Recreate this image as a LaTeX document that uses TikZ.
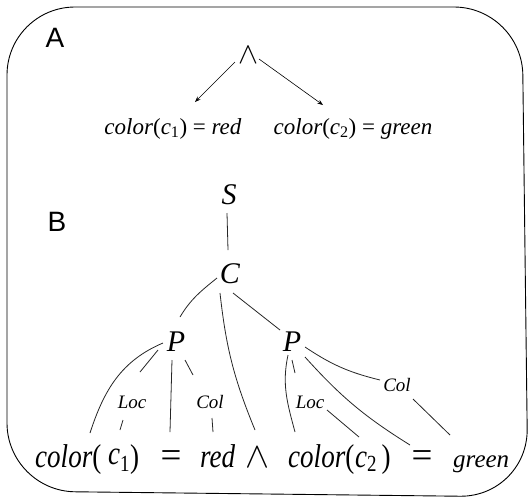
\RequirePackage{fix-cm}
\documentclass[tikz,border=0pt]{standalone}
\usepackage{fontspec}
\usepackage{graphicx}
\setmainfont{Liberation Serif}
\setsansfont{Liberation Sans}
\usetikzlibrary{arrows.meta,calc}

% narrow, tall lettering of the sentence
\newcommand{\tallword}[1]{\scalebox{0.82}[1]{#1}}

\begin{document}
\begin{tikzpicture}[x=1pt, y=1pt, >=Stealth,
    panel/.style={font=\fontsize{28}{30}\selectfont\sffamily},
    cat/.style={font=\fontsize{30}{32}\selectfont\itshape, inner sep=0pt},
    role/.style={font=\fontsize{19}{21}\selectfont\itshape, inner sep=0pt},
    formula/.style={font=\fontsize{23}{26}\selectfont, inner sep=0pt},
    word/.style={font=\fontsize{33}{35}\selectfont, inner sep=0pt},
    link/.style={line width=0.8pt, black!85}]
    \useasboundingbox (0,0) rectangle (530,-499);

    % Frame
    \draw[line width=0.9pt, rounded corners=68pt]
        (7,-7) -- (522,-7) -- (528,-497) -- (7,-491) -- cycle;

    % Panel letters
    \node[panel] (labA) at (55,-38) {A};
    \node[panel] (labB) at (57,-222) {B};

    % A: conjunction of two constraints
    \node[formula, font=\fontsize{30}{32}\selectfont] (andT) at (248,-55) {$\wedge$};
    \node[formula] (eqR) at (173,-129) {\textit{color}(\textit{c}\textsubscript{1}) = \textit{red}};
    \node[formula] (eqG) at (353,-129) {\textit{color}(\textit{c}\textsubscript{2}) = \textit{green}};
    \draw[->, line width=0.6pt] ([shift={(-13,-7)}]andT.center) -- ([shift={(22,27)}]eqR.center);
    \draw[->, line width=0.6pt] ([shift={(11,-4)}]andT.center) -- ([shift={(-30,24)}]eqG.center);

    % B: parse tree over the sentence
    \node[cat] (S) at (229,-195) {S};
    \node[cat] (C) at (230,-274) {C};
    \node[cat] (Pl) at (176,-342) {P};
    \node[cat] (Pr) at (292,-342) {P};
    \node[role] (locL) at (132,-402) {Loc};
    \node[role] (colL) at (210,-402) {Col};
    \node[role] (locR) at (310,-402) {Loc};
    \node[role] (colR) at (397,-385) {Col};

    % sentence
    \node[word, anchor=base west] (colA) at (35,-467) {\tallword{\textit{color}(}};
    \node[word, anchor=base west] (cA) at (108,-467) {\tallword{\raisebox{3pt}{\textit{c}}\textsubscript{1})}};
    \node[word, anchor=base, font=\fontsize{37}{39}\selectfont] (eqA) at (171,-467) {=};
    \node[word, anchor=base west] (redA) at (200,-467) {\tallword{\textit{red}}};
    \node[word, anchor=base, font=\fontsize{36}{38}\selectfont] (andB) at (257,-467) {$\wedge$};
    \node[word, anchor=base west] (colB) at (288,-467) {\tallword{\textit{color}(}};
    \node[word, anchor=base west] (cB) at (355,-467) {\tallword{\textit{c}\textsubscript{2}\,)}};
    \node[word, anchor=base, font=\fontsize{37}{39}\selectfont] (eqB) at (422,-467) {=};
    \node[word, anchor=base west, font=\fontsize{25}{28}\selectfont] (grB) at (453,-467) {\textit{green}};

    % tree links
    \draw[link] ([shift={(-2,-18)}]S.center) -- ([shift={(-2,24)}]C.center);
    \draw[link] ([shift={(-13,-4)}]C.center) to[out=219, in=59] ([shift={(4,25)}]Pl.center);
    \draw[link] ([shift={(-10,-19)}]C.center) to[bend right=8] ([shift={(-2,37)}]andB.base);
    \draw[link] ([shift={(3,-19)}]C.center) -- ([shift={(-12,12)}]Pr.center);

    \draw[link] ([shift={(-13,-1)}]Pl.center) to[out=203, in=72] ([shift={(55,34)}]colA.base west);
    \draw[link] ([shift={(-18,-8)}]Pl.center) -- ([shift={(8,30)}]locL.center);
    \draw[link] ([shift={(-4,-18)}]Pl.center) -- ([shift={(-1,35)}]eqA.base);
    \draw[link] ([shift={(9,-18)}]Pl.center) -- ([shift={(-17,27)}]colL.center);
    \draw[link] ([shift={(-9,-18)}]locL.center) -- ([shift={(12,37)}]cA.base west);
    \draw[link] ([shift={(2,-16)}]colL.center) -- ([shift={(13,35)}]redA.base west);

    \draw[link] ([shift={(-4,-13)}]Pr.center) to[out=258, in=105] ([shift={(7,35)}]colB.base west);
    \draw[link] ([shift={(0,-18)}]Pr.center) -- ([shift={(-15,29)}]locR.center);
    \draw[link] ([shift={(13,-15)}]Pr.center) to[bend right=8] ([shift={(-12,22)}]eqB.base);
    \draw[link] ([shift={(13,-5)}]Pr.center) to[bend right=10] ([shift={(-17,5)}]colR.center);
    \draw[link] ([shift={(17,-8)}]locR.center) -- ([shift={(4,30)}]cB.base west);
    \draw[link] ([shift={(16,-14)}]colR.center) -- ([shift={(-3,32)}]grB.base west);
\end{tikzpicture}
\end{document}
